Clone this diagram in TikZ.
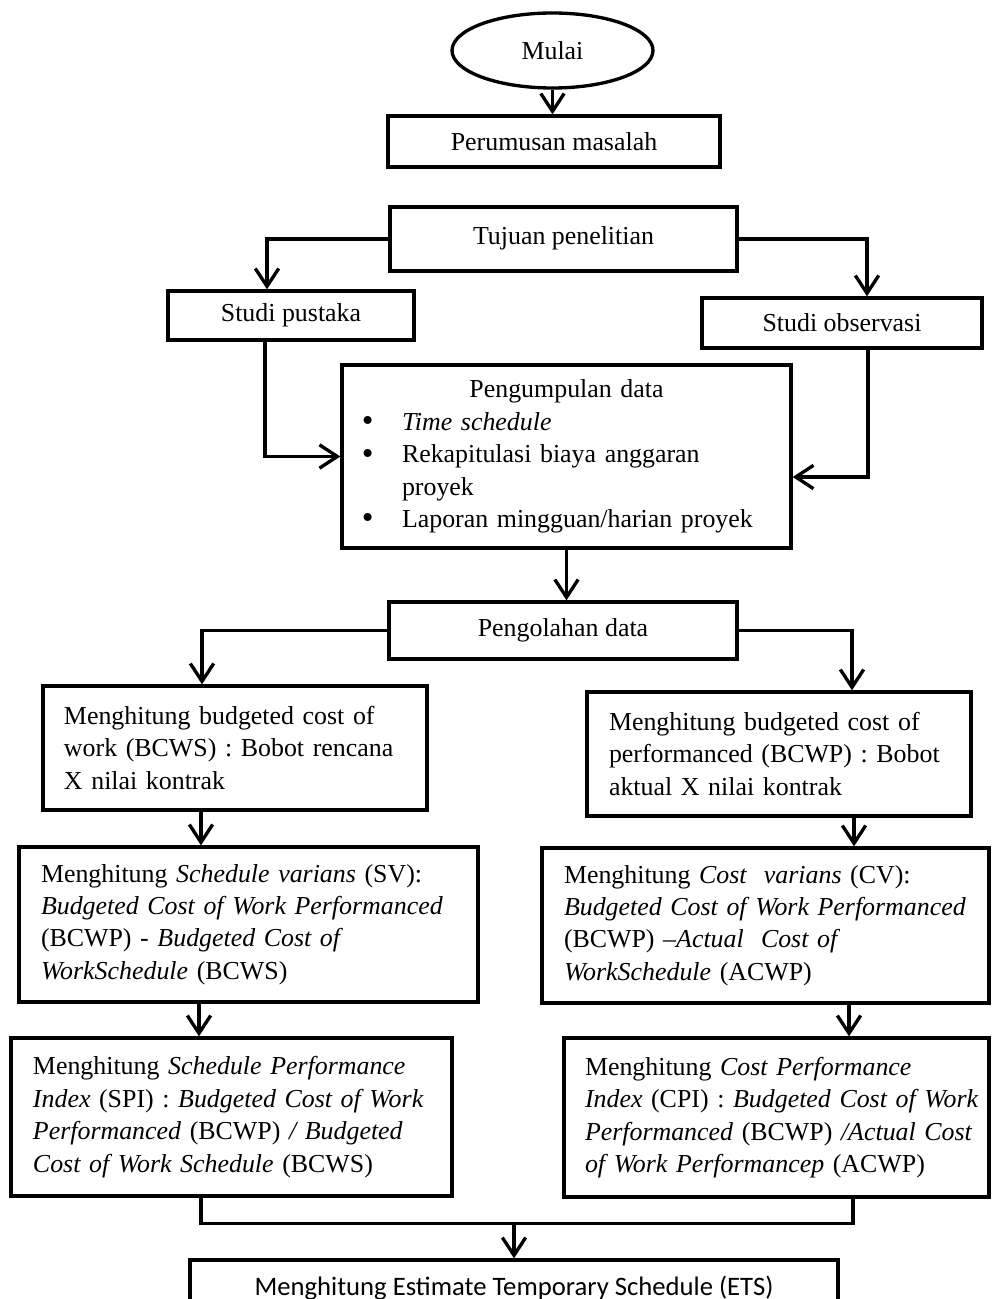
\documentclass[tikz,border=0pt]{standalone}
\usepackage{fontspec}
\setmainfont{Liberation Serif}
\newfontfamily\calibri{Carlito}
\usetikzlibrary{arrows.meta,shapes.geometric,calc}
\newcommand\bul{\makebox[20.7pt][l]{\hspace{2.6pt}\raisebox{-0.6pt}{\fontsize{15pt}{15pt}\selectfont\textbullet}}}
\begin{document}
\begin{tikzpicture}[x=0.45pt,y=-0.45pt,
  every node/.style={font=\fontsize{11.65pt}{14.6pt}\selectfont},
  box/.style={draw, line width=1.5pt, rectangle, inner sep=0pt},
  tbox/.style={box, align=left},
  arr/.style={line width=1.5pt, -{Straight Barb[length=8pt,width=10.5pt]}},
  ln/.style={line width=1.5pt}]
\useasboundingbox (0,0) rectangle (992,1299);
\clip (0,0) rectangle (992,1299);

\node[draw, ellipse, line width=1.5pt, inner sep=0pt, minimum width=90.45pt, minimum height=33.75pt] (mulai) at (552.5,50.5) {\raisebox{-1.2pt}{Mulai}};
\node[box, minimum width=149.4pt, minimum height=22.95pt] (perum) at (554,141.5) {Perumusan masalah};
\node[box, minimum width=156.15pt, minimum height=28.8pt] (tujuan) at (563.5,239) {\raisebox{2.7pt}{Tujuan penelitian}};
\node[box, minimum width=110.7pt, minimum height=22.05pt] (pustaka) at (291,315.5) {\raisebox{-1.5pt}{Studi pustaka}};
\node[box, minimum width=126pt, minimum height=22.5pt] (obs) at (842,323) {Studi observasi};

\node[tbox, text width=189.45pt, inner xsep=6.3pt, minimum width=202.05pt, minimum height=82.35pt] (kumpul) at (566.5,456.5)
  {\makebox[189.45pt][c]{Pengumpulan data}\\
   \bul\textit{Time schedule}\\
   \bul Rekapitulasi biaya anggaran\\
   \hspace*{20.7pt}proyek\\
   \bul Laporan mingguan/harian proyek};

\node[box, minimum width=156.6pt, minimum height=25.65pt] (olah) at (563,630.5) {Pengolahan data};

\node[tbox, text width=153.9pt, inner xsep=9.45pt, minimum width=172.8pt, minimum height=55.8pt] (bcws) at (235,748)
  {\mbox{Menghitung budgeted cost of}\\
   \mbox{work (BCWS) : Bobot rencana}\\
   \mbox{X nilai kontrak}};
\node[tbox, text width=153pt, inner xsep=9.9pt, minimum width=172.8pt, minimum height=55.8pt] (bcwp) at (779,754)
  {\mbox{Menghitung budgeted cost of}\\
   \mbox{performanced (BCWP) : Bobot}\\
   \mbox{aktual X nilai kontrak}};

\node[tbox, text width=186.75pt, inner xsep=9.9pt, minimum width=206.55pt, minimum height=69.75pt] (sv) at (248.5,924.5)
  {\mbox{Menghitung \textit{Schedule varians} (SV):}\\
   \mbox{\textit{Budgeted Cost of Work Performanced}}\\
   \mbox{(BCWP) - \textit{Budgeted Cost of}}\\
   \mbox{\textit{WorkSchedule} (BCWS)}};
\node[tbox, text width=181.35pt, inner xsep=9.9pt, minimum width=201.15pt, minimum height=69.75pt] (cv) at (765.5,925.5)
  {\mbox{Menghitung \textit{Cost\ \ varians} (CV):}\\
   \mbox{\textit{Budgeted Cost of Work Performanced}}\\
   \mbox{(BCWP) –\textit{Actual\ \ Cost of}}\\
   \mbox{\textit{WorkSchedule} (ACWP)}};

\node[tbox, text width=178.65pt, inner xsep=9.9pt, minimum width=198.45pt, minimum height=71.1pt] (spi) at (231.5,1117)
  {\mbox{Menghitung \textit{Schedule Performance}}\\
   \mbox{\textit{Index} (SPI) : \textit{Budgeted Cost of Work}}\\
   \mbox{\textit{Performanced} (BCWP) \textit{/ Budgeted}}\\
   \mbox{\textit{Cost of Work Schedule} (BCWS)}};
\node[tbox, text width=172.35pt, inner xsep=9.45pt, minimum width=191.25pt, minimum height=71.55pt] (cpi) at (776.5,1117.5)
  {\mbox{Menghitung \textit{Cost Performance}}\\
   \mbox{\textit{Index} (CPI) : \textit{Budgeted Cost of Work}}\\
   \mbox{\textit{Performanced} (BCWP) \textit{/Actual Cost}}\\
   \mbox{\textit{of Work Performancep} (ACWP)}};

\node[box, minimum width=291.6pt, minimum height=25.2pt, font=\calibri\fontsize{12pt}{14.6pt}\selectfont] (ets) at (514,1288)
  {Menghitung Estimate Temporary Schedule (ETS)};

% connectors
\draw[arr] (mulai.south) -- (mulai.south |- perum.north);
\draw[arr] (tujuan.west) -| ($(pustaka.north)+(-24,0)$);
\draw[arr] (tujuan.east) -| ($(obs.north)+(25,0)$);
\draw[arr] ($(pustaka.south)+(-26,0)$) |- (kumpul.west);
\draw[arr] ($(obs.south)+(26,0)$) |- ($(kumpul.east)+(0,20.5)$);
\draw[arr] (kumpul.south) -- (kumpul.south |- olah.north);
\draw[arr] (olah.west) -| ($(bcws.north)+(-33,0)$);
\draw[arr] (olah.east) -| ($(bcwp.north)+(73,0)$);
\coordinate (a1) at ($(bcws.south)+(-34,0)$);
\draw[arr] (a1) -- (a1 |- sv.north);
\coordinate (a2) at ($(bcwp.south)+(75,0)$);
\draw[arr] (a2) -- (a2 |- cv.north);
\coordinate (a3) at ($(sv.south)+(-49.5,0)$);
\draw[arr] (a3) -- (a3 |- spi.north);
\coordinate (a4) at ($(cv.south)+(83.5,0)$);
\draw[arr] (a4) -- (a4 |- cpi.north);
\coordinate (jl) at ($(spi.south)+(-30.5,26)$);
\coordinate (jr) at ($(cpi.south)+(76.5,24.5)$);
\draw[ln] (spi.south -| jl) -- (jl) -- (jl -| jr) -- (cpi.south -| jr);
\draw[arr] (ets.north |- jl) -- (ets.north);
\end{tikzpicture}
\end{document}
